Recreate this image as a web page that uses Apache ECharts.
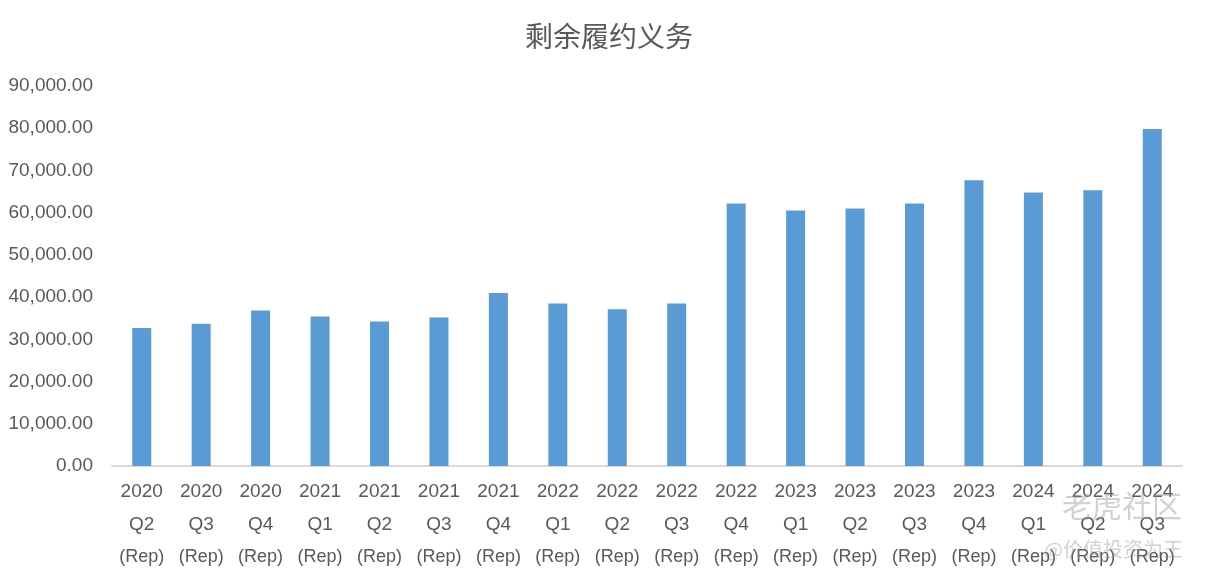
<!DOCTYPE html>
<html><head><meta charset="utf-8">
<style>html,body{margin:0;padding:0;background:#fff}#c{width:1206px;height:577px}</style>
<script src="https://cdn.jsdelivr.net/npm/echarts@6/dist/echarts.min.js"></script></head>
<body><div id="c"></div>
<script>
const years=["2020","2020","2020","2021","2021","2021","2021","2022","2022","2022","2022","2023","2023","2023","2023","2024","2024","2024"];
const quarters=["Q2","Q3","Q4","Q1","Q2","Q3","Q4","Q1","Q2","Q3","Q4","Q1","Q2","Q3","Q4","Q1","Q2","Q3"];
const categories=years.map((y,i)=>y+"|"+quarters[i]);
const values=[32700,33700,36800,35400,34200,35200,41000,38500,37100,38500,62200,60500,61000,62200,67700,64800,65300,79800];
const title="剩余履约义务";
const watermark="老虎社区";
const watermarkUser="@价值投资为王";
const cjk="'Noto Sans CJK SC',sans-serif";
const latin="'Liberation Sans',sans-serif";
const chart=echarts.init(document.getElementById('c'));
chart.setOption({
 animation:false,
 title:{text:title,left:520,top:17,textStyle:{color:'#595959',fontSize:28,fontWeight:'normal',fontFamily:cjk}},
 grid:{left:112,right:24,top:86,bottom:111,containLabel:false},
 xAxis:{type:'category',data:categories,axisTick:{show:false},axisLine:{lineStyle:{color:'#d9d9d9',width:2}},
  axisLabel:{color:'#595959',margin:9,interval:0,fontFamily:latin,
   formatter:v=>{const p=v.split('|');return `{a|${p[0]}}\n{a|${p[1]}}\n{b|(Rep)}`;},
   rich:{a:{fontSize:19,lineHeight:33,color:'#595959',fontFamily:latin},b:{fontSize:18,lineHeight:33,color:'#595959',fontFamily:latin}}}},
 yAxis:{type:'value',min:0,max:90000,interval:10000,splitLine:{show:false},axisLine:{show:false},axisTick:{show:false},
  axisLabel:{color:'#595959',fontSize:19,margin:19,fontFamily:latin,formatter:v=>v.toLocaleString('en-US',{minimumFractionDigits:2,maximumFractionDigits:2})}},
 series:[{type:'bar',data:values,barWidth:19,itemStyle:{color:'#5b9bd5'}}],
 graphic:[
  {type:'text',right:24,top:491,z:10,style:{text:watermark,fontSize:30,fontFamily:cjk,fill:'rgba(140,140,140,0.4)'}},
  {type:'text',right:23,top:539,z:10,style:{text:watermarkUser,fontSize:20,fontFamily:cjk,fill:'rgba(140,140,140,0.4)'}}
 ]
});
</script></body></html>
